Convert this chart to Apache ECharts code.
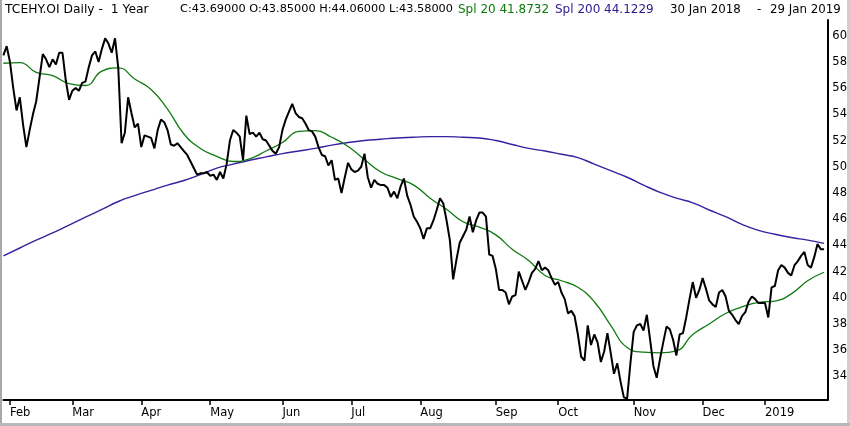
<!DOCTYPE html>
<html lang="en">
<head>
    <meta charset="UTF-8">
    <title>TCEHY.OI Daily</title>
    <script src="https://cdn.jsdelivr.net/npm/echarts@6/dist/echarts.min.js"></script>
    <style>
        body { margin: 0; background: #fff; }
        #wrap { position: relative; width: 850px; height: 426px; }
        #main { position: absolute; left: 0; top: 0; width: 850px; height: 426px; }
        .fr { position: absolute; pointer-events: none; }
    </style>
</head>
<body>
<div id="wrap">
    <div id="main"></div>
    <div class="fr" style="left:0;top:0;width:2px;height:426px;background:#a9a9a9;"></div>
    <div class="fr" style="right:0;top:0;width:3px;height:426px;background:#cfcfcf;"></div>
    <div class="fr" style="left:0;bottom:0;width:850px;height:3px;background:#b9b9b9;"></div>
</div>

<script type="text/javascript">
// closing prices, one per trading day, 30 Jan 2018 .. 29 Jan 2019
var closes = [
    58.5, 59.2, 58.0, 56.0, 54.3, 55.3, 53.2, 51.5, 52.8, 54.0,
    55.0, 56.8, 58.6, 58.2, 57.6, 58.2, 57.8, 58.7, 58.7, 56.6,
    55.1, 55.8, 56.0, 55.8, 56.4, 56.5, 57.6, 58.5, 58.8, 58.0,
    59.0, 59.8, 59.4, 58.7, 59.8, 57.5, 51.8, 52.6, 55.3, 54.1,
    53.0, 53.3, 51.5, 52.4, 52.3, 52.2, 51.4, 52.8, 53.6, 53.4,
    52.8, 51.7, 51.6, 51.8, 51.5, 51.2, 50.9, 50.4, 49.9, 49.4,
    49.5, 49.5, 49.6, 49.3, 49.4, 49.0, 49.6, 49.1, 50.2, 52.0,
    52.8, 52.6, 52.3, 50.5, 53.9, 52.5, 52.6, 52.3, 52.6, 52.1,
    52.0, 51.6, 51.2, 51.0, 51.5, 52.8, 53.6, 54.2, 54.8, 54.1,
    53.8, 53.7, 53.3, 52.8, 52.7, 52.3, 51.5, 50.9, 50.8, 50.1,
    50.5, 49.0, 49.1, 48.0, 49.2, 50.3, 49.8, 49.6, 49.7, 50.0,
    51.0, 49.2, 48.4, 49.0, 48.7, 48.6, 48.6, 48.4, 47.7, 48.1,
    47.6, 48.5, 49.1, 47.8, 47.1, 46.2, 45.8, 45.3, 44.5, 45.3,
    45.3, 45.9, 46.7, 47.6, 47.2, 45.9, 44.4, 41.4, 42.9, 44.2,
    44.7, 45.2, 46.2, 45.0, 45.9, 46.5, 46.5, 46.2, 43.3, 43.2,
    42.2, 40.6, 40.6, 40.4, 39.5, 40.1, 40.2, 42.0, 41.3, 40.6,
    41.2, 41.9, 42.2, 42.8, 42.1, 42.3, 42.1, 41.5, 41.0, 41.2,
    40.4, 39.9, 38.8, 39.0, 38.6, 37.2, 35.5, 35.2, 37.9, 36.4,
    37.2, 36.6, 35.1, 35.9, 37.3, 35.8, 34.2, 35.0, 33.6, 32.4,
    32.3, 35.0, 37.4, 37.9, 38.0, 37.5, 38.7, 36.8, 34.8, 33.9,
    35.3, 36.6, 37.8, 37.6, 36.8, 35.6, 37.2, 37.3, 38.5, 39.9,
    41.2, 40.0, 40.6, 41.5, 40.7, 39.8, 39.5, 39.3, 40.4, 40.6,
    40.1, 39.0, 38.7, 38.3, 38.0, 38.6, 38.9, 39.7, 40.1, 39.9,
    39.6, 39.6, 39.6, 38.5, 40.8, 40.9, 42.1, 42.5, 42.3, 41.9,
    41.7, 42.5, 42.8, 43.2, 43.5, 42.5, 42.3, 43.1, 44.1, 43.7,
    43.7
];

// moving averages read every 5 trading days
var maStep = 5;
var spl20 = [
    57.9, 57.95, 57.2, 56.95, 56.35, 56.2, 57.3, 57.55, 56.7, 55.9,
    54.4, 52.5, 51.4, 50.8, 50.4, 50.6, 51.2, 51.85, 52.7, 52.75,
    52.25, 51.55, 50.55, 49.6, 49.1, 48.6, 47.6, 46.75, 45.8, 45.4,
    44.8, 43.7, 42.85, 41.7, 41.3, 40.8, 39.7, 37.9, 36.2, 35.85,
    35.8, 35.95, 37.2, 38.0, 38.8, 39.3, 39.65, 39.75, 40.3, 41.3,
    41.95
];
var spl200 = [
    43.2, 43.8, 44.4, 44.95, 45.55, 46.15, 46.75, 47.35, 47.8, 48.2,
    48.6, 48.95, 49.4, 49.9, 50.2, 50.5, 50.75, 51.0, 51.2, 51.4,
    51.65, 51.85, 52.0, 52.1, 52.2, 52.25, 52.3, 52.3, 52.25, 52.2,
    52.0, 51.7, 51.4, 51.2, 50.95, 50.7, 50.2, 49.7, 49.2, 48.6,
    48.05, 47.6, 47.25, 46.7, 46.2, 45.6, 45.15, 44.85, 44.6, 44.4,
    44.15
];

var yTicks = [34, 36, 38, 40, 42, 44, 46, 48, 50, 52, 54, 56, 58, 60];
var monthNames = ['Jan', 'Feb', 'Mar', 'Apr', 'May', 'Jun', 'Jul', 'Aug', 'Sep', 'Oct', 'Nov', 'Dec'];
var holidays = ['2018-02-19', '2018-03-30', '2018-05-28', '2018-07-04', '2018-09-03',
    '2018-11-22', '2018-12-05', '2018-12-25', '2019-01-01', '2019-01-21'];

// trading days (weekdays without market holidays)
var days = [];
var d = new Date(Date.UTC(2018, 0, 30));
var end = new Date(Date.UTC(2019, 0, 29));
while (d <= end) {
    var s = d.toISOString().slice(0, 10);
    var wd = d.getUTCDay();
    if (wd !== 0 && wd !== 6 && holidays.indexOf(s) < 0) days.push(s);
    d.setUTCDate(d.getUTCDate() + 1);
}
var cats = days.concat(['']);

function isMonthStart(idx) {
    if (idx < 1 || idx >= days.length) return false;
    return days[idx].slice(5, 7) !== days[idx - 1].slice(5, 7);
}

function pairs(arr) {
    var res = [];
    for (var i = 0; i < arr.length; i++) res.push([i * maStep, arr[i]]);
    return res;
}

var FONT = 'DejaVu Sans';
var FS = 11.5;
var txt = function (text, left, color, size) {
    return {
        text: text, left: left, top: 4, padding: 0,
        textStyle: {fontFamily: FONT, fontSize: size || FS, fontWeight: 'normal', color: color}
    };
};

var chart = echarts.init(document.getElementById('main'));
chart.setOption({
    animation: false,
    backgroundColor: '#fff',
    title: [
        txt('TCEHY.OI Daily -  1 Year', 5, '#000', 12.3),
        txt('C:43.69000 O:43.85000 H:44.06000 L:43.58000', 180, '#000', 11.3),
        txt('Spl 20 41.8732', 458, '#0b7a0b', 12),
        txt('Spl 200 44.1229', 555, '#2e1a8c', 12),
        txt('30 Jan 2018', 670, '#000', 11.8),
        txt('-', 757, '#000', 11.8),
        txt('29 Jan 2019', 770, '#000', 11.8)
    ],
    grid: {left: 3.4, right: 21.8, top: 20, bottom: 26},
    xAxis: {
        type: 'category',
        data: cats,
        boundaryGap: false,
        axisLine: {lineStyle: {color: '#000', width: 2}},
        axisTick: {
            interval: function (idx) { return isMonthStart(idx); },
            length: 5,
            lineStyle: {color: '#000', width: 1.5}
        },
        axisLabel: {
            interval: function (idx) { return isMonthStart(idx); },
            formatter: function (v) {
                var m = +v.slice(5, 7);
                return m === 1 ? v.slice(0, 4) : monthNames[m - 1];
            },
            align: 'left',
            margin: 7,
            color: '#000',
            fontFamily: FONT,
            fontSize: FS
        },
        splitLine: {show: false}
    },
    yAxis: {
        type: 'value',
        position: 'right',
        min: 32.2,
        max: 61.2,
        axisLine: {show: true, lineStyle: {color: '#000', width: 2}},
        axisTick: {show: false},
        splitLine: {show: false},
        axisLabel: {
            customValues: yTicks,
            margin: 5,
            color: '#000',
            fontFamily: FONT,
            fontSize: FS
        }
    },
    series: [
        {
            name: 'Spl 200',
            type: 'line',
            data: pairs(spl200),
            smooth: true,
            showSymbol: false,
            lineStyle: {color: '#3a1fa0', width: 1.4}
        },
        {
            name: 'Spl 20',
            type: 'line',
            data: pairs(spl20),
            smooth: true,
            showSymbol: false,
            lineStyle: {color: '#107a10', width: 1.3}
        },
        {
            name: 'TCEHY.OI',
            type: 'line',
            data: closes,
            showSymbol: false,
            lineStyle: {color: '#000', width: 2}
        }
    ]
});
</script>
</body>
</html>
